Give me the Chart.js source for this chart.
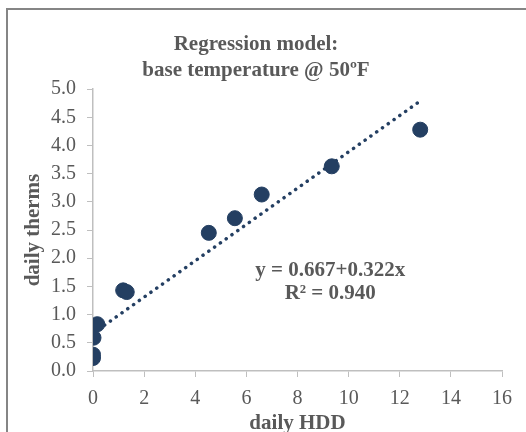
<!DOCTYPE html>
<html>
<head>
<meta charset="utf-8">
<script src="https://cdn.jsdelivr.net/npm/chart.js@4/dist/chart.umd.min.js"></script>
<style>
  html, body { margin: 0; padding: 0; background: #fff; overflow: hidden; }
  #wrap { position: relative; width: 526px; height: 432px; overflow: hidden; }
  #frame { position: absolute; left: 6px; top: 8px; width: 700px; height: 700px; border: 2px solid #858585; box-sizing: border-box; pointer-events: none; }
  canvas { position: absolute; left: 0; top: 0; }
</style>
</head>
<body>
<div id="wrap">
  <canvas id="chart" width="526" height="438"></canvas>
  <div id="frame"></div>
</div>
<script>
  const hdd = [0, 0, 0.02, 0.17, 1.18, 1.32, 4.53, 5.55, 6.6, 9.34, 12.8];
  const therms = [0.23, 0.29, 0.59, 0.83, 1.43, 1.40, 2.45, 2.71, 3.13, 3.63, 4.28];

  // fitted line as printed on the chart
  const intercept = 0.667;
  const slope = 0.322;
  const rSquared = 0.940;
  const trendX = [0, 12.75];

  const xTicks = [0, 2, 4, 6, 8, 10, 12, 14, 16];
  const yTicks = [0, 0.5, 1, 1.5, 2, 2.5, 3, 3.5, 4, 4.5, 5];

  const gray = '#595959';
  const axisGray = '#bfbfbf';
  const navy = '#243f62';
  const serif = "'Liberation Serif', 'Times New Roman', serif";

  const equationLabel = {
    id: 'equationLabel',
    afterDatasetsDraw(chart) {
      const { ctx, scales } = chart;
      const cx = scales.x.getPixelForValue(9.28);
      const cy = scales.y.getPixelForValue(1.78);
      ctx.save();
      ctx.fillStyle = gray;
      ctx.font = 'bold 21px ' + serif;
      ctx.textAlign = 'center';
      ctx.textBaseline = 'middle';
      ctx.fillText('y = ' + intercept.toFixed(3) + '+' + slope.toFixed(3) + 'x', cx, cy);
      ctx.fillText('R² = ' + rSquared.toFixed(3), cx, cy + 23);
      ctx.restore();
    }
  };

  new Chart(document.getElementById('chart'), {
    type: 'scatter',
    data: {
      datasets: [
        {
          label: 'trend',
          type: 'line',
          data: trendX.map((x) => ({ x, y: intercept + slope * x })),
          borderColor: navy,
          borderWidth: 3.5,
          borderDash: [0.1, 7],
          borderCapStyle: 'round',
          pointRadius: 0,
          fill: false,
          order: 2
        },
        {
          label: 'daily therms',
          data: hdd.map((x, i) => ({ x, y: therms[i] })),
          backgroundColor: navy,
          borderColor: navy,
          pointRadius: 7.5,
          pointHoverRadius: 7.5,
          order: 1
        }
      ]
    },
    options: {
      responsive: false,
      animation: false,
      layout: { padding: { left: 10, right: 24, top: 0, bottom: 0 } },
      plugins: {
        legend: { display: false },
        tooltip: { enabled: false },
        title: {
          display: true,
          text: ['Regression model:', 'base temperature @ 50ºF'],
          color: gray,
          font: { family: serif, size: 21, weight: 'bold', lineHeight: 1.24 },
          padding: { top: 32, bottom: 5 }
        }
      },
      scales: {
        x: {
          type: 'linear',
          min: 0,
          max: 16,
          afterBuildTicks: (axis) => { axis.ticks = xTicks.map((v) => ({ value: v })); },
          afterFit: (axis) => { axis.height = 67; },
          ticks: { color: gray, font: { family: serif, size: 20 }, padding: 10 },
          grid: { drawOnChartArea: false, drawTicks: true, tickLength: 6, tickColor: axisGray },
          border: { color: axisGray, width: 1.5 },
          title: {
            display: true,
            text: 'daily HDD',
            color: gray,
            font: { family: serif, size: 21, weight: 'bold' },
            padding: { top: 0, bottom: 2 }
          }
        },
        y: {
          type: 'linear',
          min: 0,
          max: 5,
          afterBuildTicks: (axis) => { axis.ticks = yTicks.map((v) => ({ value: v })); },
          afterFit: (axis) => { axis.width = 83; },
          ticks: { color: gray, font: { family: serif, size: 20 }, padding: 11, callback: (v) => Number(v).toFixed(1) },
          grid: { drawOnChartArea: false, drawTicks: true, tickLength: 6, tickColor: axisGray },
          border: { color: axisGray, width: 1.5 },
          title: {
            display: true,
            text: 'daily therms',
            color: gray,
            font: { family: serif, size: 21, weight: 'bold' },
            padding: { top: 11, bottom: 0 }
          }
        }
      }
    },
    plugins: [equationLabel]
  });
</script>
</body>
</html>
